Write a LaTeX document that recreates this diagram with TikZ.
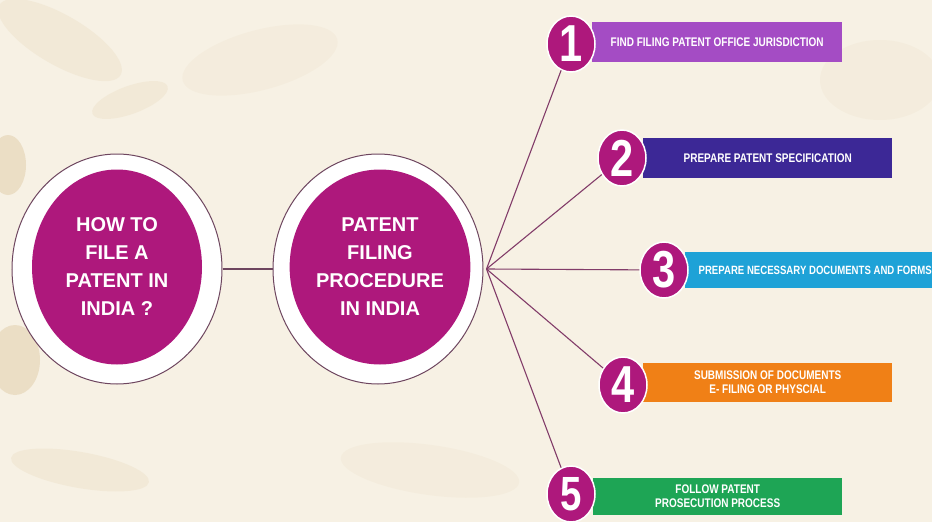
\documentclass[tikz,border=0pt]{standalone}
\usepackage{fontspec}
\setmainfont{Liberation Sans}
\newfontfamily\condfont[FakeStretch=0.8]{Liberation Sans}
\usetikzlibrary{shapes.geometric,calc}
\definecolor{bgcol}{RGB}{247,241,228}
\definecolor{leafcol}{RGB}{222,200,160}
\definecolor{mag}{RGB}{174,24,124}
\definecolor{ringline}{RGB}{110,70,95}
\definecolor{spokecol}{RGB}{130,60,105}
\definecolor{cviolet}{RGB}{164,76,196}
\definecolor{cindigo}{RGB}{60,40,150}
\definecolor{ccyan}{RGB}{30,162,215}
\definecolor{corange}{RGB}{240,128,22}
\definecolor{cgreen}{RGB}{30,165,85}
\tikzset{
  ringbox/.style={ellipse, draw=ringline, line width=1pt, fill=white, minimum width=210pt, minimum height=230pt, inner sep=0pt},
  corebox/.style={ellipse, fill=mag, minimum width=170pt, minimum height=195pt, text=white, font=\bfseries\fontsize{20}{28}\selectfont, align=center, inner sep=0pt},
  numbox/.style={ellipse, fill=mag, draw=white, line width=1.5pt, minimum width=48pt, minimum height=56pt, text=white, font=\condfont\bfseries\fontsize{52}{52}\selectfont, inner sep=0pt},
  bannerbox/.style={rectangle, minimum height=40pt, text=white, font=\condfont\bfseries\fontsize{12.5}{14}\selectfont, align=center, inner sep=0pt, anchor=west},
  spoke/.style={draw=spokecol, line width=1.1pt},
  leaf/.style={fill=leafcol, opacity=0.18}
}
\begin{document}
\begin{tikzpicture}[x=1pt,y=-1pt]
\useasboundingbox (0,0) rectangle (932,522);
\clip (0,0) rectangle (932,522);
\fill[bgcol] (0,0) rectangle (932,522);
% background texture
\fill[leaf] (60,40) ellipse [x radius=70pt, y radius=25pt, rotate=-30];
\fill[leaf] (130,100) ellipse [x radius=40pt, y radius=14pt, rotate=20];
\fill[leaf, opacity=0.45] (8,165) ellipse [x radius=18pt, y radius=30pt];
\fill[leaf, opacity=0.45] (15,360) ellipse [x radius=25pt, y radius=35pt];
\fill[leaf] (80,470) ellipse [x radius=70pt, y radius=18pt, rotate=-10];
\fill[leaf, opacity=0.1] (260,60) ellipse [x radius=80pt, y radius=30pt, rotate=15];
\fill[leaf, opacity=0.1] (430,470) ellipse [x radius=90pt, y radius=25pt, rotate=-8];
\fill[leaf, opacity=0.1] (880,80) ellipse [x radius=60pt, y radius=40pt];
% banners
\node[bannerbox, fill=cviolet, minimum width=250pt] (b1) at (592,42) {FIND FILING PATENT OFFICE JURISDICTION};
\node[bannerbox, fill=cindigo, minimum width=249pt] (b2) at (643,158) {PREPARE PATENT SPECIFICATION};
\node[bannerbox, fill=ccyan, minimum width=260pt, minimum height=36pt, font=\condfont\bfseries\fontsize{12}{14}\selectfont] (b3) at (685,270) {PREPARE NECESSARY DOCUMENTS AND FORMS};
\node[bannerbox, fill=corange, minimum width=249pt, minimum height=39pt] (b4) at (643,382.5) {SUBMISSION OF DOCUMENTS\\E- FILING OR PHYSCIAL};
\node[bannerbox, fill=cgreen, minimum width=249pt, minimum height=37pt] (b5) at (593,496.5) {FOLLOW PATENT\\PROSECUTION PROCESS};
% number circles
\node[numbox] (n1) at (571,44) {1};
\node[numbox] (n2) at (622,158) {2};
\node[numbox] (n3) at (664,270) {3};
\node[numbox] (n4) at (623,385) {4};
\node[numbox, font=\condfont\bfseries\fontsize{48}{48}\selectfont] (n5) at (571,494) {5};
% big circles
\node[ringbox] (ring1) at (117,269) {};
\node[ringbox] (ring2) at (378,269) {};
\node[corebox] (core1) at (117,267) {HOW TO\\FILE A\\PATENT IN\\INDIA ?};
\node[corebox] (core2) at (380,267) {PATENT\\FILING\\PROCEDURE\\IN INDIA};
% connectors
\draw[draw=ringline, line width=1.3pt] (ring1) -- (ring2);
\coordinate (hub) at ($(ring2.east)+(3,0)$);
\draw[spoke] (hub) -- (n1);
\draw[spoke] (hub) -- (n2);
\draw[spoke] (hub) -- (n3);
\draw[spoke] (hub) -- (n4);
\draw[spoke] (hub) -- (n5);
\end{tikzpicture}
\end{document}
